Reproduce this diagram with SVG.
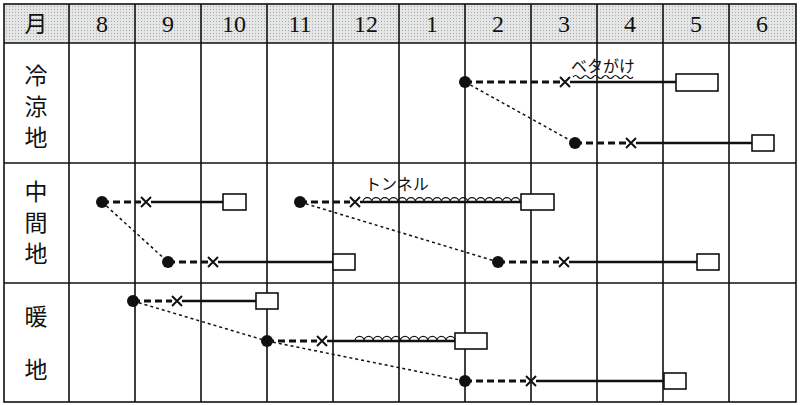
<svg xmlns="http://www.w3.org/2000/svg" width="800" height="405" viewBox="0 0 800 405">
<defs>
<pattern id="dots" width="3" height="3" patternUnits="userSpaceOnUse"><rect width="3" height="3" fill="#e4e6e6"/><rect width="1" height="1" fill="#a8aaaa"/></pattern>
<style>
.g{stroke:#111;stroke-width:1.6;fill:none}
.hd{font-family:"Liberation Serif",serif;font-size:24px;fill:#111;text-anchor:middle}
.rl{font-family:"Noto Sans CJK JP",sans-serif;font-size:23px;fill:#111;text-anchor:middle}
.lb{font-family:"Noto Sans CJK JP",sans-serif;font-size:16px;fill:#111}
.dash{stroke:#111;stroke-width:3;stroke-dasharray:7,4;fill:none}
.sol{stroke:#111;stroke-width:2.5;fill:none}
.dot{stroke:#111;stroke-width:1.5;stroke-dasharray:3,3;fill:none}
.x{stroke:#111;stroke-width:2;fill:none}
.box{fill:#fff;stroke:#111;stroke-width:1.6}
.tn{stroke:#111;stroke-width:1.2;fill:none}
</style>
</defs>
<g id="grid">
<rect x="4" y="4" width="792" height="39" fill="url(#dots)"/>
<rect x="4" y="4" width="792" height="398" class="g" stroke-width="2.5"/>
<path class="g" d="M4,43H796M4,163H796M4,283H796M69,4V402M135,4V402M201,4V402M267,4V402M333,4V402M399,4V402M465,4V402M531,4V402M597,4V402M663,4V402M729,4V402"/>
</g>
<g id="header">
<text class="rl" x="36" y="32">月</text>
<text class="hd" x="102" y="32">8</text><text class="hd" x="168" y="32">9</text><text class="hd" x="234" y="32">10</text><text class="hd" x="300" y="32">11</text><text class="hd" x="366" y="32">12</text><text class="hd" x="432" y="32">1</text><text class="hd" x="498" y="32">2</text><text class="hd" x="564" y="32">3</text><text class="hd" x="630" y="32">4</text><text class="hd" x="696" y="32">5</text><text class="hd" x="762" y="32">6</text>
</g>
<g id="row-labels">
<text class="rl" x="36" y="84">冷</text><text class="rl" x="36" y="115">涼</text><text class="rl" x="36" y="146">地</text>
<text class="rl" x="36" y="200">中</text><text class="rl" x="36" y="231">間</text><text class="rl" x="36" y="262">地</text>
<text class="rl" x="36" y="325">暖</text><text class="rl" x="36" y="378">地</text>
</g>
<g id="connectors">
<path class="dot" d="M465,82L575,143M102,202L168,262M300,202L498,262M133,301L267,341M267,341L465,381"/>
<path class="dash" d="M465,82H560M575,143H626M102,202H141M168,262H208M300,202H350M498,262H559M133,301H172M267,341H317M465,381H526"/>
<path class="sol" d="M570,82H676M636,143H752M151,202H223M218,262H333M360,202H521M569,262H697M182,301H256M327,341H455M536,381H664"/>
<path class="x" d="M560,77l10,10m0,-10l-10,10M626,138l10,10m0,-10l-10,10M141,197l10,10m0,-10l-10,10M208,257l10,10m0,-10l-10,10M350,197l10,10m0,-10l-10,10M559,257l10,10m0,-10l-10,10M172,296l10,10m0,-10l-10,10M317,336l10,10m0,-10l-10,10M526,376l10,10m0,-10l-10,10"/>
<path class="tn" d="M363,202a4.36,4.36 0 0 1 8.72,0a4.36,4.36 0 0 1 8.72,0a4.36,4.36 0 0 1 8.72,0a4.36,4.36 0 0 1 8.72,0a4.36,4.36 0 0 1 8.72,0a4.36,4.36 0 0 1 8.72,0a4.36,4.36 0 0 1 8.72,0a4.36,4.36 0 0 1 8.72,0a4.36,4.36 0 0 1 8.72,0a4.36,4.36 0 0 1 8.72,0a4.36,4.36 0 0 1 8.72,0a4.36,4.36 0 0 1 8.72,0a4.36,4.36 0 0 1 8.72,0a4.36,4.36 0 0 1 8.72,0a4.36,4.36 0 0 1 8.72,0a4.36,4.36 0 0 1 8.72,0a4.36,4.36 0 0 1 8.72,0a4.36,4.36 0 0 1 8.72,0"/>
<path class="tn" d="M355,341a4.55,4.55 0 0 1 9.1,0a4.55,4.55 0 0 1 9.1,0a4.55,4.55 0 0 1 9.1,0a4.55,4.55 0 0 1 9.1,0a4.55,4.55 0 0 1 9.1,0a4.55,4.55 0 0 1 9.1,0a4.55,4.55 0 0 1 9.1,0a4.55,4.55 0 0 1 9.1,0a4.55,4.55 0 0 1 9.1,0a4.55,4.55 0 0 1 9.1,0a4.55,4.55 0 0 1 9.1,0"/>
<path class="tn" d="M573,77q2.5,-3 5,0t5,0t5,0t5,0t5,0t5,0t5,0t5,0t5,0t5,0t5,0t5,0"/>
</g>
<g id="dots-start" fill="#111">
<circle cx="465" cy="82" r="6"/><circle cx="575" cy="143" r="6"/><circle cx="102" cy="202" r="6"/><circle cx="168" cy="262" r="6"/><circle cx="300" cy="202" r="6"/><circle cx="498" cy="262" r="6"/><circle cx="133" cy="301" r="6"/><circle cx="267" cy="341" r="6"/><circle cx="465" cy="381" r="6"/>
</g>
<g id="harvest-boxes">
<rect class="box" x="676" y="74" width="42" height="17"/><rect class="box" x="752" y="135" width="22" height="16"/><rect class="box" x="223" y="194" width="23" height="16"/><rect class="box" x="333" y="254" width="22" height="16"/><rect class="box" x="521" y="194" width="33" height="16"/><rect class="box" x="697" y="254" width="22" height="16"/><rect class="box" x="256" y="293" width="22" height="16"/><rect class="box" x="455" y="333" width="32" height="16"/><rect class="box" x="664" y="373" width="22" height="16"/>
</g>
<g id="labels">
<text class="lb" x="571" y="72">ベタがけ</text>
<text class="lb" x="365" y="190">トンネル</text>
</g>
</svg>
